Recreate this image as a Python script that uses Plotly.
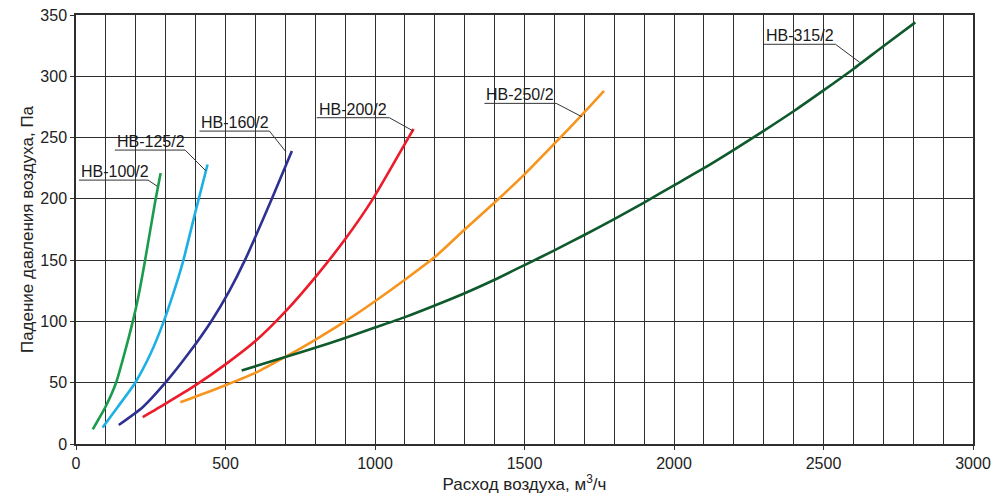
import plotly.graph_objects as go

# ---- data ----
hb100_x = [56, 75, 98, 134, 160, 190, 210, 229, 265, 283]
hb100_y = [12, 20, 30, 50, 72, 100, 122, 147, 198, 221]

hb125_x = [89, 139, 198, 250, 292, 323, 357, 400, 440]
hb125_y = [13.4, 30, 50, 74, 99, 121, 148, 190, 228]

hb160_x = [143, 223, 299, 380, 452, 513, 565, 655, 722]
hb160_y = [15.5, 30, 50, 75, 100, 125, 150, 200, 239]

hb200_x = [223, 300, 400, 500, 600, 700, 800, 900, 993, 1112, 1129]
hb200_y = [22, 33, 48, 65, 84, 108, 136, 167, 200, 250, 257]

hb250_x = [349, 500, 600, 700, 800, 900, 1000, 1100, 1200, 1300, 1400, 1500, 1600, 1700, 1766]
hb250_y = [34, 48, 58, 71, 85, 100, 116.5, 134, 152.5, 175, 197, 220, 245, 270.5, 288]

hb315_x = [554, 700, 800, 900, 1000, 1100, 1200, 1300, 1400, 1500, 1600, 1700, 1800,
           1900, 2000, 2100, 2200, 2300, 2400, 2500, 2600, 2700, 2807]
hb315_y = [60, 71, 78.5, 86.5, 95, 103.5, 113, 123, 134, 146, 158, 170.5, 183.5,
           197, 211, 225, 240, 255.5, 271.5, 288.5, 306, 324.5, 344]

series_names = ["НВ-100/2", "НВ-125/2", "НВ-160/2", "НВ-200/2", "НВ-250/2", "НВ-315/2"]
series_x = [hb100_x, hb125_x, hb160_x, hb200_x, hb250_x, hb315_x]
series_y = [hb100_y, hb125_y, hb160_y, hb200_y, hb250_y, hb315_y]
series_colors = ["#1b9c4c", "#1cb0e4", "#2e3192", "#ec1c2a", "#f7941d", "#0e5a2c"]

# label leader lines: underline from x0 to x1 at y, then to pointer (px, py)
label_x0 = [10, 130, 413, 805, 1366, 2300]
label_x1 = [241, 365, 647, 1048, 1606, 2540]
label_y = [215.3, 239.8, 255.3, 266.2, 277.9, 326.1]
label_px = [271, 434, 702, 1126, 1692, 2621]
label_py = [210.4, 222.9, 238.4, 255.6, 267, 311.4]

x_ticks = [0, 500, 1000, 1500, 2000, 2500, 3000]
y_ticks = [0, 50, 100, 150, 200, 250, 300, 350]

FONT = "Liberation Sans, Arial, sans-serif"
GRID = "#2e2e2e"

fig = go.Figure()
for name, xs, ys, col in zip(series_names, series_x, series_y, series_colors):
    fig.add_trace(go.Scatter(x=xs, y=ys, mode="lines", name=name,
                             line=dict(color=col, width=2.6, shape="spline", smoothing=0.6),
                             showlegend=False, hoverinfo="x+y+name"))

for name, x0, x1, y, px, py in zip(series_names, label_x0, label_x1, label_y, label_px, label_py):
    fig.add_trace(go.Scatter(x=[x0, x1, px], y=[y, y, py], mode="lines",
                             line=dict(color="#333333", width=1),
                             showlegend=False, hoverinfo="skip"))
    fig.add_annotation(x=x0, y=y, xref="x", yref="y", text=name, showarrow=False,
                       xanchor="left", yanchor="bottom", xshift=0, yshift=-2,
                       font=dict(family=FONT, size=16, color="#1a1a1a"))

fig.update_layout(
    width=1000, height=498,
    margin=dict(l=76, r=27, t=15, b=54),
    paper_bgcolor="white", plot_bgcolor="white",
    font=dict(family=FONT, size=16, color="#222222"),
)
fig.update_xaxes(
    range=[0, 3000], tickvals=x_ticks, ticktext=[str(v) for v in x_ticks],
    showgrid=True, gridcolor=GRID, gridwidth=1.3,
    minor=dict(dtick=100, showgrid=True, gridcolor=GRID, gridwidth=1.3, ticks=""),
    ticks="outside", ticklen=4, tickcolor=GRID,
    showline=True, linecolor=GRID, linewidth=1.5, mirror=True, zeroline=False,
    automargin=False,
    title=dict(text="Расход воздуха, м<sup>3</sup>/ч", font=dict(size=17, family=FONT), standoff=4),
    tickfont=dict(size=16, family=FONT),
)
fig.update_yaxes(
    range=[0, 350], tickvals=y_ticks,
    showgrid=True, gridcolor=GRID, gridwidth=1.3,
    ticks="outside", ticklen=4, tickcolor=GRID,
    showline=True, linecolor=GRID, linewidth=1.5, mirror=True, zeroline=False,
    automargin=False,
    title=dict(text="Падение давления воздуха, Па", font=dict(size=17, family=FONT), standoff=2),
    tickfont=dict(size=16, family=FONT),
)

fig.write_html("out.html", config={"displayModeBar": False},
               post_script="document.body.style.margin='0';")
